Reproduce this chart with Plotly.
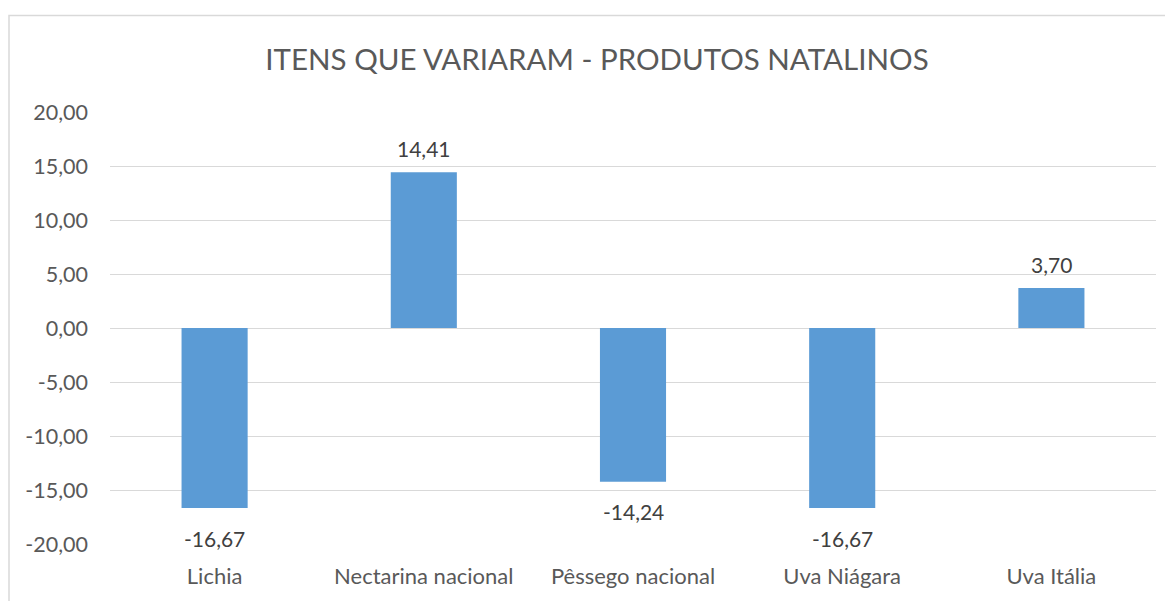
import plotly.graph_objects as go

categories = ["Lichia", "Nectarina nacional", "Pêssego nacional", "Uva Niágara", "Uva Itália"]
values = [-16.67, 14.41, -14.24, -16.67, 3.70]
tick_values = [-20, -15, -10, -5, 0, 5, 10, 15, 20]

def br(v):
    return f"{v:.2f}".replace(".", ",")

tick_labels = [br(v) for v in tick_values]
bar_labels = [br(v) for v in values]

# page body has an 8px margin, so the figure is sized/offset accordingly
W, H = 1165, 593
L, R, T, B = 102, 17, 104, 55
pw, ph = W - L - R, H - T - B

font = "Lato, 'Open Sans', sans-serif"
fig = go.Figure(go.Bar(
    x=categories, y=values,
    marker=dict(color="#5b9bd5", line=dict(width=0)),
))

for c, v, t in zip(categories, values, bar_labels):
    fig.add_annotation(x=c, y=v, text=t, showarrow=False, xanchor="center", yanchor="middle",
                       yshift=24 if v >= 0 else -30,
                       font=dict(size=21, color="#404040", family=font))

fig.update_layout(
    width=W, height=H, margin=dict(l=L, r=R, t=T, b=B),
    paper_bgcolor="white", plot_bgcolor="white",
    font=dict(family=font, color="#595959", size=21),
    bargap=0.684, showlegend=False,
    title=dict(text="ITENS QUE VARIARAM - PRODUTOS NATALINOS", x=(597 - 8) / W, xanchor="center",
               y=1 - 52 / H, yanchor="middle", font=dict(size=29.5, color="#595959")),
    xaxis=dict(showgrid=False, showline=False, ticks="", tickfont=dict(size=22), ticklabelstandoff=17),
    yaxis=dict(range=[-20, 20], tickvals=tick_values, ticktext=tick_labels,
               showgrid=True, gridcolor="#d9d9d9", gridwidth=1.3, zeroline=True,
               zerolinecolor="#d9d9d9", zerolinewidth=1.3, showline=False,
               tickfont=dict(size=21.5), ticks="", ticklabelstandoff=21),
)
fig.add_shape(type="rect", xref="paper", yref="paper",
              x0=(1 - L) / pw, x1=(W + 20 - L) / pw,
              y0=-(B + 20) / ph, y1=(H - B - 7) / ph,
              line=dict(color="#d9d9d9", width=1.5), fillcolor="rgba(0,0,0,0)", layer="below")
fig.write_html("out.html")
